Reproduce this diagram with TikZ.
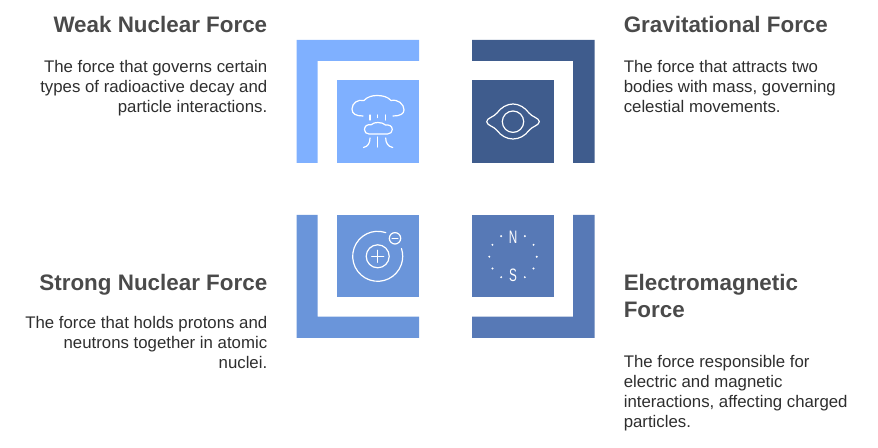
\documentclass[tikz,border=0pt]{standalone}
\usepackage{fontspec}
\setmainfont{Liberation Sans}
\usetikzlibrary{calc}
\definecolor{weakblue}{HTML}{7FB0FF}
\definecolor{gravblue}{HTML}{3F5C8D}
\definecolor{strongblue}{HTML}{6A95DA}
\definecolor{magblue}{HTML}{5779B6}
\definecolor{titlegrey}{HTML}{4A4A4A}
\definecolor{bodygrey}{HTML}{2E2E2E}
\tikzset{
	icon/.style={draw=white, line width=0.9pt, line cap=round, line join=round},
	title/.style={inner sep=0pt, text=titlegrey, font=\fontsize{16.8pt}{20pt}\selectfont\bfseries},
	body/.style={inner sep=0pt, text=bodygrey, font=\fontsize{12.6pt}{15.1pt}\selectfont},
	pole/.style={inner sep=0pt, text=white, xscale=0.65, transform shape, font=\fontsize{13.5pt}{13.5pt}\selectfont}
}

\begin{document}
\begin{tikzpicture}[x=0.75pt, y=-0.75pt]
	%%%%% START %%%%%
	\useasboundingbox (0, 0) rectangle (878, 448);
	
	% weak
	\fill[weakblue] (296.5, 40) -- (419, 40) -- (419, 61) -- (317.7, 61) -- (317.7, 163) -- (296.5, 163) -- cycle;
	\fill[weakblue] (337, 80) rectangle (419, 163);
	
	% gravitational
	\fill[gravblue] (472, 40) -- (594.5, 40) -- (594.5, 163) -- (573, 163) -- (573, 61) -- (472, 61) -- cycle;
	\fill[gravblue] (472, 80) rectangle (554, 163);
	
	% strong
	\fill[strongblue] (296.5, 215) -- (317.7, 215) -- (317.7, 316.7) -- (419, 316.7) -- (419, 338) -- (296.5, 338) -- cycle;
	\fill[strongblue] (337, 215) rectangle (419, 297);
	
	% electromagnetic
	\fill[magblue] (573, 215) -- (594.5, 215) -- (594.5, 338) -- (472, 338) -- (472, 316.7) -- (573, 316.7) -- cycle;
	\fill[magblue] (472, 215) rectangle (554, 297);
	
	% mushroom cloud
	\draw[icon] (363, 116) .. controls (356, 116) and (352, 114) .. (352, 109)
		.. controls (352, 103) and (358, 99) .. (364, 100.5)
		.. controls (367, 97) and (372, 95.5) .. (377, 95.5)
		.. controls (383, 95.5) and (388, 97) .. (391, 100.5)
		.. controls (398, 99) and (404, 104) .. (404, 110)
		.. controls (404, 114) and (400, 116) .. (393, 116);
	\draw[icon] (370, 115) -- (370, 120);
	\draw[icon] (377.3, 115) -- (377.3, 117.5);
	\draw[icon] (385.7, 115) -- (385.7, 120);
	\draw[icon] (369, 134) .. controls (366, 134) and (364.5, 132) .. (364.5, 129.5)
		.. controls (364.5, 126) and (367.5, 124) .. (371, 124.8)
		.. controls (373, 123) and (375.5, 122.5) .. (378, 122.5)
		.. controls (381, 122.5) and (384, 123.5) .. (385.5, 125)
		.. controls (389, 124.5) and (392.3, 126) .. (392.3, 129.5)
		.. controls (392.3, 132) and (390.5, 134) .. (387.5, 134) -- (369, 134);
	\draw[icon] (377.3, 137) -- (377.3, 147);
	\draw[icon] (370, 138) .. controls (370, 143) and (368, 146.5) .. (363.5, 147.5);
	\draw[icon] (385.7, 138) .. controls (385.7, 143) and (388, 146.5) .. (392.7, 147.5);
	
	% eye
	\coordinate (eye) at (513, 121.7);
	\draw[icon] (eye) circle (10.7);
	\draw[icon] (486.7, 121.7) .. controls (486.7, 118) and (494, 117) .. (497, 113)
		.. controls (501, 107.5) and (507, 104) .. (513, 104)
		.. controls (519, 104) and (525, 107.5) .. (529, 113)
		.. controls (532, 117) and (539.3, 118) .. (539.3, 121.7)
		.. controls (539.3, 125.4) and (532, 126.4) .. (529, 130.4)
		.. controls (525, 135.9) and (519, 139) .. (513, 139)
		.. controls (507, 139) and (501, 135.9) .. (497, 130.4)
		.. controls (494, 126.4) and (486.7, 125.4) .. (486.7, 121.7);
	
	% atom
	\coordinate (atom) at (377.7, 256.3);
	\coordinate (electron) at (395, 238.3);
	\draw[icon] ([shift={(-71:25)}]atom) arc (-71:-378:25);
	\draw[icon] (atom) circle (11.5);
	\draw[icon] ([xshift=-4.5pt]atom) -- ([xshift=4.5pt]atom);
	\draw[icon] ([yshift=-4.5pt]atom) -- ([yshift=4.5pt]atom);
	\draw[icon] (electron) circle (5.7);
	\draw[icon] ([xshift=-2.2pt]electron) -- ([xshift=2.2pt]electron);
	
	% compass
	\coordinate (compass) at (513, 256.7);
	\foreach \ang in {0, 30, 60, 120, 150, 180, 210, 240, 300, 330}
		\fill[white] ([shift={(\ang:23.7)}]compass) circle (1.1);
	\node[pole] (north) at (513, 237.7) {N};
	\node[pole] (south) at (513, 275.7) {S};
	
	% labels left
	\node[title, anchor=base east] (weaktitle) at (267.5, 33) {Weak Nuclear Force};
	\node[body, anchor=base east, align=right] (weaktext) at (267.5, 113) {The force that governs certain\\types of radioactive decay and\\particle interactions.};
	\node[title, anchor=base east] (strongtitle) at (267.5, 291) {Strong Nuclear Force};
	\node[body, anchor=base east, align=right] (strongtext) at (267.5, 369) {The force that holds protons and\\neutrons together in atomic\\nuclei.};
	
	% labels right
	\node[title, anchor=base west] (gravtitle) at (623.5, 33) {Gravitational Force};
	\node[body, anchor=base west, align=left] (gravtext) at (623.5, 113) {The force that attracts two\\bodies with mass, governing\\celestial movements.};
	\node[title, anchor=base west, align=left] (magtitle) at (623.5, 317.5) {Electromagnetic\\Force};
	\node[body, anchor=base west, align=left] (magtext) at (623.5, 428) {The force responsible for\\electric and magnetic\\interactions, affecting charged\\particles.};
	
	%%%%% END %%%%%
\end{tikzpicture}
\end{document}
